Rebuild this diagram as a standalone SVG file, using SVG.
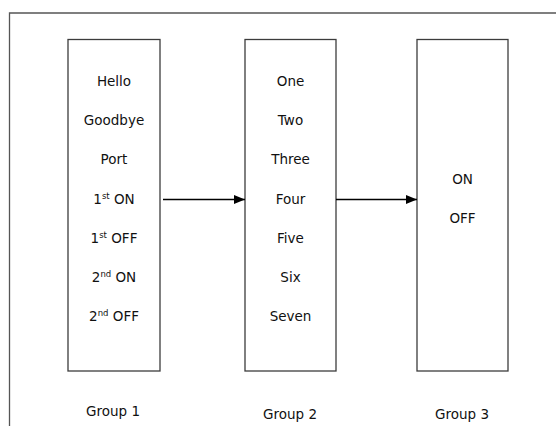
<svg xmlns="http://www.w3.org/2000/svg" width="556" height="426" viewBox="0 0 556 426">
  <style>
    .frame { fill: none; stroke: #555555; stroke-width: 1.3; }
    .box { fill: #ffffff; stroke: #3c3c3c; stroke-width: 1.3; }
    .label { font-family: "DejaVu Sans", "Liberation Sans", sans-serif; font-size: 13.5px; fill: #111111; text-anchor: middle; }
    .sup { font-size: 8.5px; }
    .link { fill: none; stroke: #000000; stroke-width: 1.5; }
  </style>
  <defs>
    <marker id="arrowhead" viewBox="0 0 11 9" refX="11" refY="4.5" markerWidth="11" markerHeight="9" markerUnits="userSpaceOnUse" orient="auto">
      <path d="M0,0 L11,4.5 L0,9 Z" fill="#000000"/>
    </marker>
  </defs>

  <rect width="556" height="426" fill="#ffffff"/>
  <!-- page frame, open to the right and bottom -->
  <path class="frame" d="M9.5,426 V13 H556"/>

  <g id="group1">
    <rect class="box" x="68" y="39.5" width="92" height="331.5"/>
    <text class="label" x="114" y="86">Hello</text>
    <text class="label" x="114" y="125">Goodbye</text>
    <text class="label" x="114" y="164">Port</text>
    <text class="label" x="114" y="203.5">1<tspan class="sup" dy="-5">st</tspan><tspan dy="5"> ON</tspan></text>
    <text class="label" x="114" y="243">1<tspan class="sup" dy="-5">st</tspan><tspan dy="5"> OFF</tspan></text>
    <text class="label" x="114" y="282">2<tspan class="sup" dy="-5">nd</tspan><tspan dy="5"> ON</tspan></text>
    <text class="label" x="114" y="321">2<tspan class="sup" dy="-5">nd</tspan><tspan dy="5"> OFF</tspan></text>
    <text class="label" x="113" y="415.5">Group 1</text>
  </g>

  <g id="group2">
    <rect class="box" x="245" y="39.5" width="91" height="331.5"/>
    <text class="label" x="290.5" y="86">One</text>
    <text class="label" x="290.5" y="125">Two</text>
    <text class="label" x="290.5" y="164">Three</text>
    <text class="label" x="290.5" y="203.5">Four</text>
    <text class="label" x="290.5" y="243">Five</text>
    <text class="label" x="290.5" y="282">Six</text>
    <text class="label" x="290.5" y="321">Seven</text>
    <text class="label" x="290" y="418.5">Group 2</text>
  </g>

  <g id="group3">
    <rect class="box" x="417" y="39.5" width="91" height="331.5"/>
    <text class="label" x="462.5" y="184">ON</text>
    <text class="label" x="462.5" y="223">OFF</text>
    <text class="label" x="462" y="418.5">Group 3</text>
  </g>

  <g id="connectors">
    <line class="link" x1="163" y1="199.5" x2="245" y2="199.5" marker-end="url(#arrowhead)"/>
    <line class="link" x1="336" y1="199.5" x2="417" y2="199.5" marker-end="url(#arrowhead)"/>
  </g>
</svg>
